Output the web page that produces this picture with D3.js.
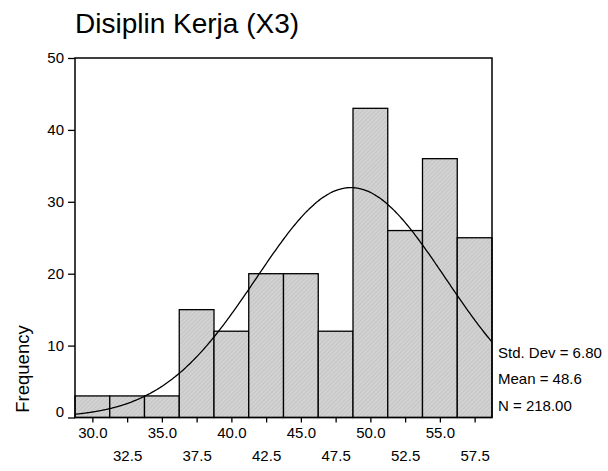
<!DOCTYPE html>
<html>
<head>
<meta charset="utf-8">
<script src="https://cdn.jsdelivr.net/npm/d3@7"></script>
<style>
  body { margin: 0; background: #fff; }
  text { font-family: "Liberation Sans", Arial, sans-serif; fill: #000; }
</style>
</head>
<body>
<svg id="hist" width="608" height="471"></svg>
<script>
// bin midpoints and counts
const binMids = [30.0, 32.5, 35.0, 37.5, 40.0, 42.5, 45.0, 47.5, 50.0, 52.5, 55.0, 57.5];
const counts = [3, 3, 3, 15, 12, 20, 20, 12, 43, 26, 36, 25];
const binWidth = 2.5;
const yTicks = [0, 10, 20, 30, 40, 50];
const stats = { sd: 6.80, mean: 48.6, n: 218 };
const statLabels = ["Std. Dev = 6.80", "Mean = 48.6", "N = 218.00"];

const margin = { top: 58, right: 116, bottom: 53.5, left: 75 },
  width = 608,
  height = 471,
  innerW = width - margin.left - margin.right,
  innerH = height - margin.top - margin.bottom;

const svg = d3.select("#hist");

// hatch fill like the SPSS bars
const defs = svg.append("defs");
const pat = defs.append("pattern")
  .attr("id", "hatch")
  .attr("patternUnits", "userSpaceOnUse")
  .attr("width", 3)
  .attr("height", 3)
  .attr("patternTransform", "rotate(45)");
pat.append("rect").attr("width", 3).attr("height", 3).attr("fill", "#d2d2d2");
pat.append("line").attr("x1", 0).attr("y1", 0).attr("x2", 0).attr("y2", 3)
  .attr("stroke", "#b9b9b9").attr("stroke-width", 1);

defs.append("clipPath").attr("id", "plotClip")
  .append("rect").attr("width", innerW).attr("height", innerH);

const x = d3.scaleLinear()
  .domain([binMids[0] - binWidth / 2, binMids[binMids.length - 1] + binWidth / 2])
  .range([0, innerW]);
const y = d3.scaleLinear().domain([0, 50]).range([innerH, 0]);

svg.append("text")
  .attr("x", 75)
  .attr("y", 33)
  .style("font-size", "28px")
  .text("Disiplin Kerja (X3)");

const g = svg.append("g").attr("transform", `translate(${margin.left},${margin.top})`);

g.selectAll("rect.bar")
  .data(binMids)
  .enter()
  .append("rect")
  .attr("class", "bar")
  .attr("x", d => x(d - binWidth / 2))
  .attr("width", d => x(d + binWidth / 2) - x(d - binWidth / 2))
  .attr("y", (d, i) => y(counts[i]))
  .attr("height", (d, i) => y(0) - y(counts[i]))
  .attr("fill", "url(#hatch)")
  .attr("stroke", "#000")
  .attr("stroke-width", 1.3);

// fitted normal curve from the reported mean / sd / N
const peak = stats.n * binWidth / (stats.sd * Math.sqrt(2 * Math.PI));
const curveX = d3.range(x.domain()[0], x.domain()[1] + 0.01, 0.1);
const line = d3.line()
  .x(d => x(d))
  .y(d => y(peak * Math.exp(-0.5 * Math.pow((d - stats.mean) / stats.sd, 2))))
  .curve(d3.curveBasis);
g.append("path")
  .datum(curveX)
  .attr("d", line)
  .attr("fill", "none")
  .attr("stroke", "#000")
  .attr("stroke-width", 1.3)
  .attr("clip-path", "url(#plotClip)");

// frame
g.append("rect")
  .attr("width", innerW)
  .attr("height", innerH)
  .attr("fill", "none")
  .attr("stroke", "#000")
  .attr("stroke-width", 1.5);

// y axis
const yAxis = g.append("g")
  .call(d3.axisLeft(y).tickValues(yTicks).tickSize(7).tickPadding(4).tickFormat(d3.format("d")));
yAxis.select(".domain").remove();
yAxis.selectAll("line").attr("stroke-width", 1.3);
yAxis.selectAll("text")
  .style("font-size", "15px")
  .attr("dy", d => (d === 0 ? "-0.05em" : "0.32em"));

// x axis with staggered labels
const xAxis = g.append("g")
  .attr("transform", `translate(0,${innerH})`)
  .call(d3.axisBottom(x).tickValues(binMids).tickSize(5).tickPadding(9).tickFormat(d3.format(".1f")));
xAxis.select(".domain").remove();
xAxis.selectAll("line").attr("stroke-width", 1.3);
xAxis.selectAll("text")
  .style("font-size", "15px")
  .attr("y", (d, i) => (i % 2 === 0 ? 10 : 33));

svg.append("text")
  .attr("transform", "translate(29,369) rotate(-90)")
  .attr("text-anchor", "middle")
  .style("font-size", "18.5px")
  .text("Frequency");

svg.selectAll("text.stat")
  .data(statLabels)
  .enter()
  .append("text")
  .attr("class", "stat")
  .attr("x", 498)
  .attr("y", (d, i) => 358 + i * 26.3)
  .style("font-size", "15px")
  .text(d => d);
</script>
</body>
</html>
